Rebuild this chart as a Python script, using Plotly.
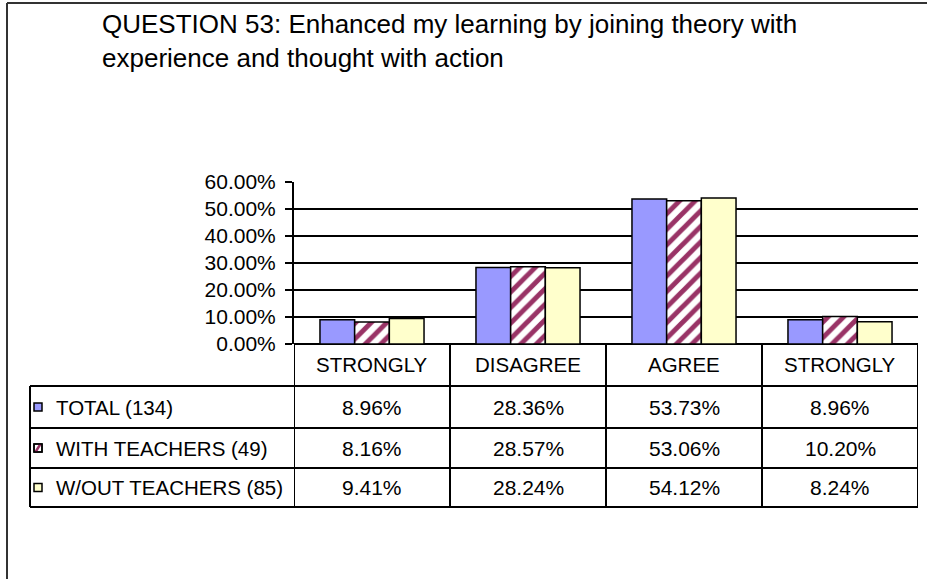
import plotly.graph_objects as go

# ---------------- data ----------------
categories = ["STRONGLY", "DISAGREE", "AGREE", "STRONGLY"]
series_names = ["TOTAL (134)", "WITH TEACHERS (49)", "W/OUT TEACHERS (85)"]
total_vals = [0.0896, 0.2836, 0.5373, 0.0896]
with_vals = [0.0816, 0.2857, 0.5306, 0.1020]
without_vals = [0.0941, 0.2824, 0.5412, 0.0824]
y_ticks = [0.0, 0.1, 0.2, 0.3, 0.4, 0.5, 0.6]
title_lines = ["QUESTION 53: Enhanced my learning by joining theory with",
               "experience and thought with action"]

# ---------------- layout helpers ----------------
W, H = 927, 579
FONT = "Liberation Sans, Arial, sans-serif"


def px(x):
    return x / W


def py(y):
    return 1 - y / H


BLUE = "#9999FF"
MAROON = "#993366"
YELLOW = "#FFFFCC"

xpos = list(range(len(categories)))

fig = go.Figure()
fig.add_trace(go.Bar(x=xpos, y=total_vals, name=series_names[0],
                     marker=dict(color=BLUE, line=dict(color="black", width=1.5))))
fig.add_trace(go.Bar(x=xpos, y=with_vals, name=series_names[1],
                     marker=dict(color="white", line=dict(color="black", width=1.5),
                                 pattern=dict(shape="/", fgcolor=MAROON, bgcolor="white",
                                              size=11, solidity=0.45, fillmode="replace"))))
fig.add_trace(go.Bar(x=xpos, y=without_vals, name=series_names[2],
                     marker=dict(color=YELLOW, line=dict(color="black", width=1.5))))

shapes = []
annotations = []
LC = "black"
LW = 2

# frame of the chart area
shapes.append(dict(type="line", xref="paper", yref="paper", x0=px(7), x1=1.0, y0=py(3), y1=py(3),
                   line=dict(color="#333333", width=2)))
shapes.append(dict(type="line", xref="paper", yref="paper", x0=px(7), x1=px(7), y0=py(3), y1=0,
                   line=dict(color="#333333", width=2)))

# table geometry
y_head_top, y_head_bot = 344, 386
row_edges = [386, 428, 468, 507]
x_leg = 30
x_right = 918

# horizontal table lines
for yy in row_edges:
    shapes.append(dict(type="line", xref="paper", yref="paper", x0=px(x_leg), x1=px(x_right),
                       y0=py(yy), y1=py(yy), line=dict(color=LC, width=LW)))
# vertical lines: category column boundaries
for k in range(len(categories) + 1):
    shapes.append(dict(type="line", xref="x", yref="paper", x0=k - 0.5, x1=k - 0.5,
                       y0=py(y_head_top), y1=py(row_edges[-1]), line=dict(color=LC, width=LW)))
# legend column left edge
shapes.append(dict(type="line", xref="paper", yref="paper", x0=px(x_leg), x1=px(x_leg),
                   y0=py(row_edges[0]), y1=py(row_edges[-1]), line=dict(color=LC, width=LW)))

# header labels
for i, c in enumerate(categories):
    annotations.append(dict(x=i, y=py((y_head_top + y_head_bot) / 2), xref="x", yref="paper",
                            text=c, showarrow=False, xanchor="center", yanchor="middle",
                            font=dict(family=FONT, size=20.5, color="black")))

series_vals = [total_vals, with_vals, without_vals]
for r, (name, vals) in enumerate(zip(series_names, series_vals)):
    yc = (row_edges[r] + row_edges[r + 1]) / 2
    annotations.append(dict(x=px(54), y=py(yc), xref="paper", yref="paper", text=name,
                            showarrow=False, xanchor="left", yanchor="middle",
                            font=dict(family=FONT, size=20.5, color="black")))
    for i, v in enumerate(vals):
        annotations.append(dict(x=i, y=py(yc), xref="x", yref="paper", text=f"{v * 100:.2f}%",
                                showarrow=False, xanchor="center", yanchor="middle",
                                font=dict(family=FONT, size=21, color="black")))
    # legend key
    k0, k1 = 34, 42
    ky0, ky1 = yc - 4, yc + 4
    if r == 0:
        shapes.append(dict(type="rect", xref="paper", yref="paper", x0=px(k0), x1=px(k1),
                           y0=py(ky1), y1=py(ky0), fillcolor=BLUE, line=dict(color="black", width=1.5)))
    elif r == 1:
        shapes.append(dict(type="rect", xref="paper", yref="paper", x0=px(k0), x1=px(k1),
                           y0=py(ky1), y1=py(ky0), fillcolor="white", line=dict(color="black", width=1.5)))
        path = (f"M {px(k0)},{py(ky1)} L {px(k1 - 3)},{py(ky0)} L {px(k1)},{py(ky0)} "
                f"L {px(k0 + 3)},{py(ky1)} Z")
        shapes.append(dict(type="path", xref="paper", yref="paper", path=path,
                           fillcolor=MAROON, line=dict(width=0)))
        shapes.append(dict(type="rect", xref="paper", yref="paper", x0=px(k0), x1=px(k1),
                           y0=py(ky1), y1=py(ky0), line=dict(color="black", width=1.5)))
    else:
        shapes.append(dict(type="rect", xref="paper", yref="paper", x0=px(k0), x1=px(k1),
                           y0=py(ky1), y1=py(ky0), fillcolor=YELLOW, line=dict(color="black", width=1.5)))

# title
annotations.append(dict(x=px(100), y=py(24), xref="paper", yref="paper", text=title_lines[0],
                        showarrow=False, xanchor="left", yanchor="middle",
                        font=dict(family=FONT, size=26, color="black")))
annotations.append(dict(x=px(100), y=py(58), xref="paper", yref="paper", text=title_lines[1],
                        showarrow=False, xanchor="left", yanchor="middle",
                        font=dict(family=FONT, size=26, color="black")))

fig.update_layout(
    template="none",
    width=W, height=H,
    autosize=False,
    margin=dict(l=0, r=0, t=0, b=0, pad=0, autoexpand=False),
    paper_bgcolor="white", plot_bgcolor="white",
    barmode="group", bargap=0.333, bargroupgap=0,
    showlegend=False,
    xaxis=dict(domain=[px(294), px(918)], range=[-0.5, 3.5], showticklabels=False,
               showgrid=False, zeroline=False, showline=False, ticks="", automargin=False),
    yaxis=dict(domain=[py(344), py(182)], range=[0, 0.6], tickvals=y_ticks,
               tickformat=".2%", showgrid=True, gridcolor="black", gridwidth=1.5,
               zeroline=True, zerolinecolor="black", zerolinewidth=2,
               showline=True, linecolor="black", linewidth=2,
               ticks="outside", ticklen=7, tickcolor="black", tickwidth=1.5,
               ticklabelstandoff=5, automargin=False,
               tickfont=dict(family=FONT, size=21, color="black")),
    shapes=shapes,
    annotations=annotations,
)

post = ("document.body.style.margin='0';document.body.style.padding='0';"
        "var d=document.getElementById('{plot_id}');"
        "d.style.position='absolute';d.style.left='0px';d.style.top='0px';")
fig.write_html("out.html", post_script=post, config={"displayModeBar": False})
